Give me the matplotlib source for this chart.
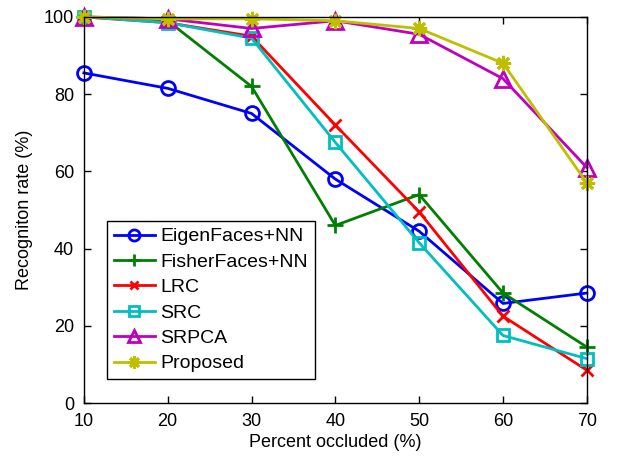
import matplotlib
matplotlib.use("Agg")
import matplotlib.pyplot as plt

plt.rcParams["font.family"] = ["Liberation Sans", "DejaVu Sans"]

occluded = [10, 20, 30, 40, 50, 60, 70]
eigen = [85.5, 81.5, 75.0, 58.0, 44.5, 25.8, 28.5]
fisher = [100.0, 99.0, 82.0, 46.0, 54.0, 28.5, 14.5]
lrc = [100.0, 98.5, 95.0, 72.0, 49.5, 22.5, 8.5]
src = [100.0, 98.5, 94.5, 67.5, 41.5, 17.5, 11.5]
srpca = [100.0, 99.5, 97.0, 99.0, 95.5, 84.0, 61.0]
proposed = [100.0, 99.5, 99.5, 99.0, 97.0, 88.0, 57.0]

series = [
    ("EigenFaces+NN", eigen, (0, 0, 1), "o", 10),
    ("FisherFaces+NN", fisher, (0, 0.5, 0), "+", 11),
    ("LRC", lrc, (1, 0, 0), "x", 8),
    ("SRC", src, (0, 0.75, 0.75), "s", 9),
    ("SRPCA", srpca, (0.75, 0, 0.75), "^", 11),
    ("Proposed", proposed, (0.75, 0.75, 0), (8, 2, 0), 11),
]

fig = plt.figure(figsize=(6.21, 4.57), dpi=100)
ax = fig.add_axes([0.135, 0.118, 0.81, 0.845])
for name, vals, col, mk, ms in series:
    ax.plot(occluded, vals, color=col, lw=2, marker=mk, markersize=ms,
            markerfacecolor="none", markeredgecolor=col,
            markeredgewidth=2, label=name, clip_on=False)

ax.set_xlim(10, 70)
ax.set_ylim(0, 100)
ax.set_xticks(occluded)
ax.set_yticks(range(0, 101, 20))
ax.tick_params(direction="in", top=True, right=True, labelsize=13, length=5, width=1, pad=7)
for sp in ax.spines.values():
    sp.set_linewidth(1)
ax.set_xlabel("Percent occluded (%)", fontsize=13, labelpad=3)
ax.set_ylabel("Recogniton rate (%)", fontsize=13, labelpad=8)
leg = ax.legend(loc="lower left", bbox_to_anchor=(0.046, 0.062), fontsize=14, frameon=True,
                fancybox=False, edgecolor="black", framealpha=1, handlelength=2.1,
                borderpad=0.35, labelspacing=0.4, handletextpad=0.3, borderaxespad=0,
                markerscale=0.8)
leg.get_frame().set_linewidth(1)

fig.savefig("out.png", dpi=100)
